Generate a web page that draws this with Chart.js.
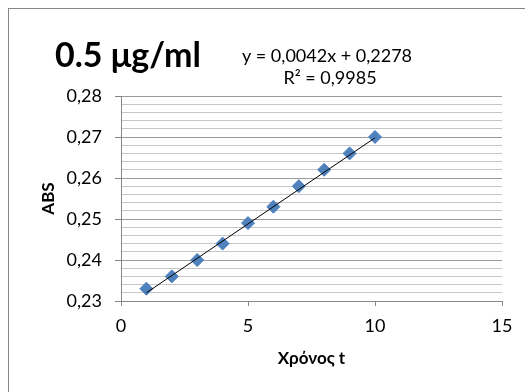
<!DOCTYPE html>
<html>
<head>
<meta charset="utf-8">
<script src="https://cdn.jsdelivr.net/npm/chart.js@4.4.1/dist/chart.umd.min.js"></script>
<style>
  html, body { margin: 0; padding: 0; background: #fff; }
  #wrap { width: 525px; height: 392px; }
</style>
</head>
<body>
<div id="wrap"><canvas id="abs-chart" width="525" height="392"></canvas></div>
<script>
// measurements: time t vs absorbance
const times = [1, 2, 3, 4, 5, 6, 7, 8, 9, 10]
const absValues = [0.233, 0.236, 0.240, 0.244, 0.249, 0.253, 0.258, 0.262, 0.266, 0.270]

// linear trendline, as printed on the chart
const slope = 0.0042
const intercept = 0.2278
const rSquared = 0.9985
const trendX = [1, 10]

const xTicks = [0, 5, 10, 15]
const yTicks = [0.23, 0.24, 0.25, 0.26, 0.27, 0.28]
const yMinorPerMajor = 5

const chartTitle = "0.5 μg/ml"
const fontFamily = "Lato, 'Open Sans', sans-serif"

function fmt(n, digits) {
    return n.toFixed(digits).replace(".", ",")
}

const points = times.map((t, i) => ({ x: t, y: absValues[i] }))
const trendPoints = trendX.map((t) => ({ x: t, y: slope * t + intercept }))

// major ticks carry labels, minor ones only get a light grid line
function buildYTicks() {
    const out = []
    yTicks.forEach((v, i) => {
        out.push({ value: v, major: true })
        if (i < yTicks.length - 1) {
            const step = (yTicks[i + 1] - v) / yMinorPerMajor
            for (let k = 1; k < yMinorPerMajor; k++) {
                out.push({ value: v + step * k, major: false })
            }
        }
    })
    return out
}

var chartDecor = {
    id: "chartDecor",
    beforeDraw(chart) {
        const { ctx } = chart
        ctx.save()
        ctx.fillStyle = "#fff"
        ctx.fillRect(0, 0, chart.width, chart.height)
        ctx.restore()
    },
    afterDraw(chart) {
        const { ctx } = chart
        ctx.save()
        ctx.strokeStyle = "#878787"
        ctx.lineWidth = 1
        ctx.strokeRect(8.5, 8.5, chart.width + 20, chart.height + 20)

        ctx.fillStyle = "#000"
        ctx.textBaseline = "alphabetic"
        ctx.textAlign = "left"
        ctx.font = "bold 34px " + fontFamily
        ctx.fillText(chartTitle, 55, 67)

        ctx.textAlign = "center"
        ctx.font = "18px " + fontFamily
        ctx.fillText("y = " + fmt(slope, 4) + "x + " + fmt(intercept, 4), 327, 62)
        ctx.fillText("R² = " + fmt(rSquared, 4), 330, 84)
        ctx.restore()
    }
}

const ctx = document.getElementById("abs-chart").getContext("2d")
var MyChart = new Chart(ctx, {
    type: "scatter",
    data: {
        datasets: [{
            label: "ABS",
            data: points,
            pointStyle: "rectRot",
            pointRadius: 6.5,
            pointHoverRadius: 6.5,
            backgroundColor: "#4f81bd",
            borderColor: "#4a7ebb",
            borderWidth: 1,
            order: 2
        }, {
            label: "Trend",
            type: "line",
            data: trendPoints,
            borderColor: "#000",
            borderWidth: 1,
            pointRadius: 0,
            fill: false,
            order: 1
        }]
    },
    plugins: [chartDecor],
    options: {
        responsive: false,
        animation: false,
        events: [],
        layout: {
            padding: { top: 96, right: 23, bottom: 0, left: 0 }
        },
        plugins: {
            legend: { display: false },
            tooltip: { enabled: false }
        },
        scales: {
            x: {
                type: "linear",
                min: 0,
                max: 15,
                afterBuildTicks(scale) {
                    scale.ticks = xTicks.map((v) => ({ value: v }))
                },
                afterFit(scale) {
                    scale.height = 91
                },
                ticks: {
                    autoSkip: false,
                    color: "#000",
                    padding: 9,
                    font: { family: fontFamily, size: 18 },
                    callback: (v) => String(v)
                },
                grid: {
                    drawOnChartArea: false,
                    drawTicks: true,
                    tickLength: 5,
                    tickColor: "#878787"
                },
                border: { color: "#878787", width: 1 },
                title: {
                    display: true,
                    text: "Χρόνος t",
                    color: "#000",
                    font: { family: fontFamily, size: 17, weight: "bold" },
                    padding: { top: 0, bottom: 23 }
                }
            },
            y: {
                type: "linear",
                min: 0.23,
                max: 0.28,
                afterBuildTicks(scale) {
                    scale.ticks = buildYTicks()
                },
                afterFit(scale) {
                    scale.width = 121
                },
                ticks: {
                    autoSkip: false,
                    color: "#000",
                    padding: 13,
                    font: { family: fontFamily, size: 18 },
                    callback: function (v, i, ticks) {
                        return ticks[i].major ? fmt(v, 2) : ""
                    }
                },
                grid: {
                    drawTicks: true,
                    tickLength: 6,
                    color: (c) => c.tick.major ? "#9c9c9c" : "#c6c6c6",
                    tickColor: (c) => c.tick.major ? "#878787" : "rgba(0,0,0,0)"
                },
                border: { color: "#878787", width: 1 },
                title: {
                    display: true,
                    text: "ABS",
                    color: "#000",
                    font: { family: fontFamily, size: 17, weight: "bold" },
                    padding: { top: 38, bottom: 0 }
                }
            }
        }
    }
})
</script>
</body>
</html>
